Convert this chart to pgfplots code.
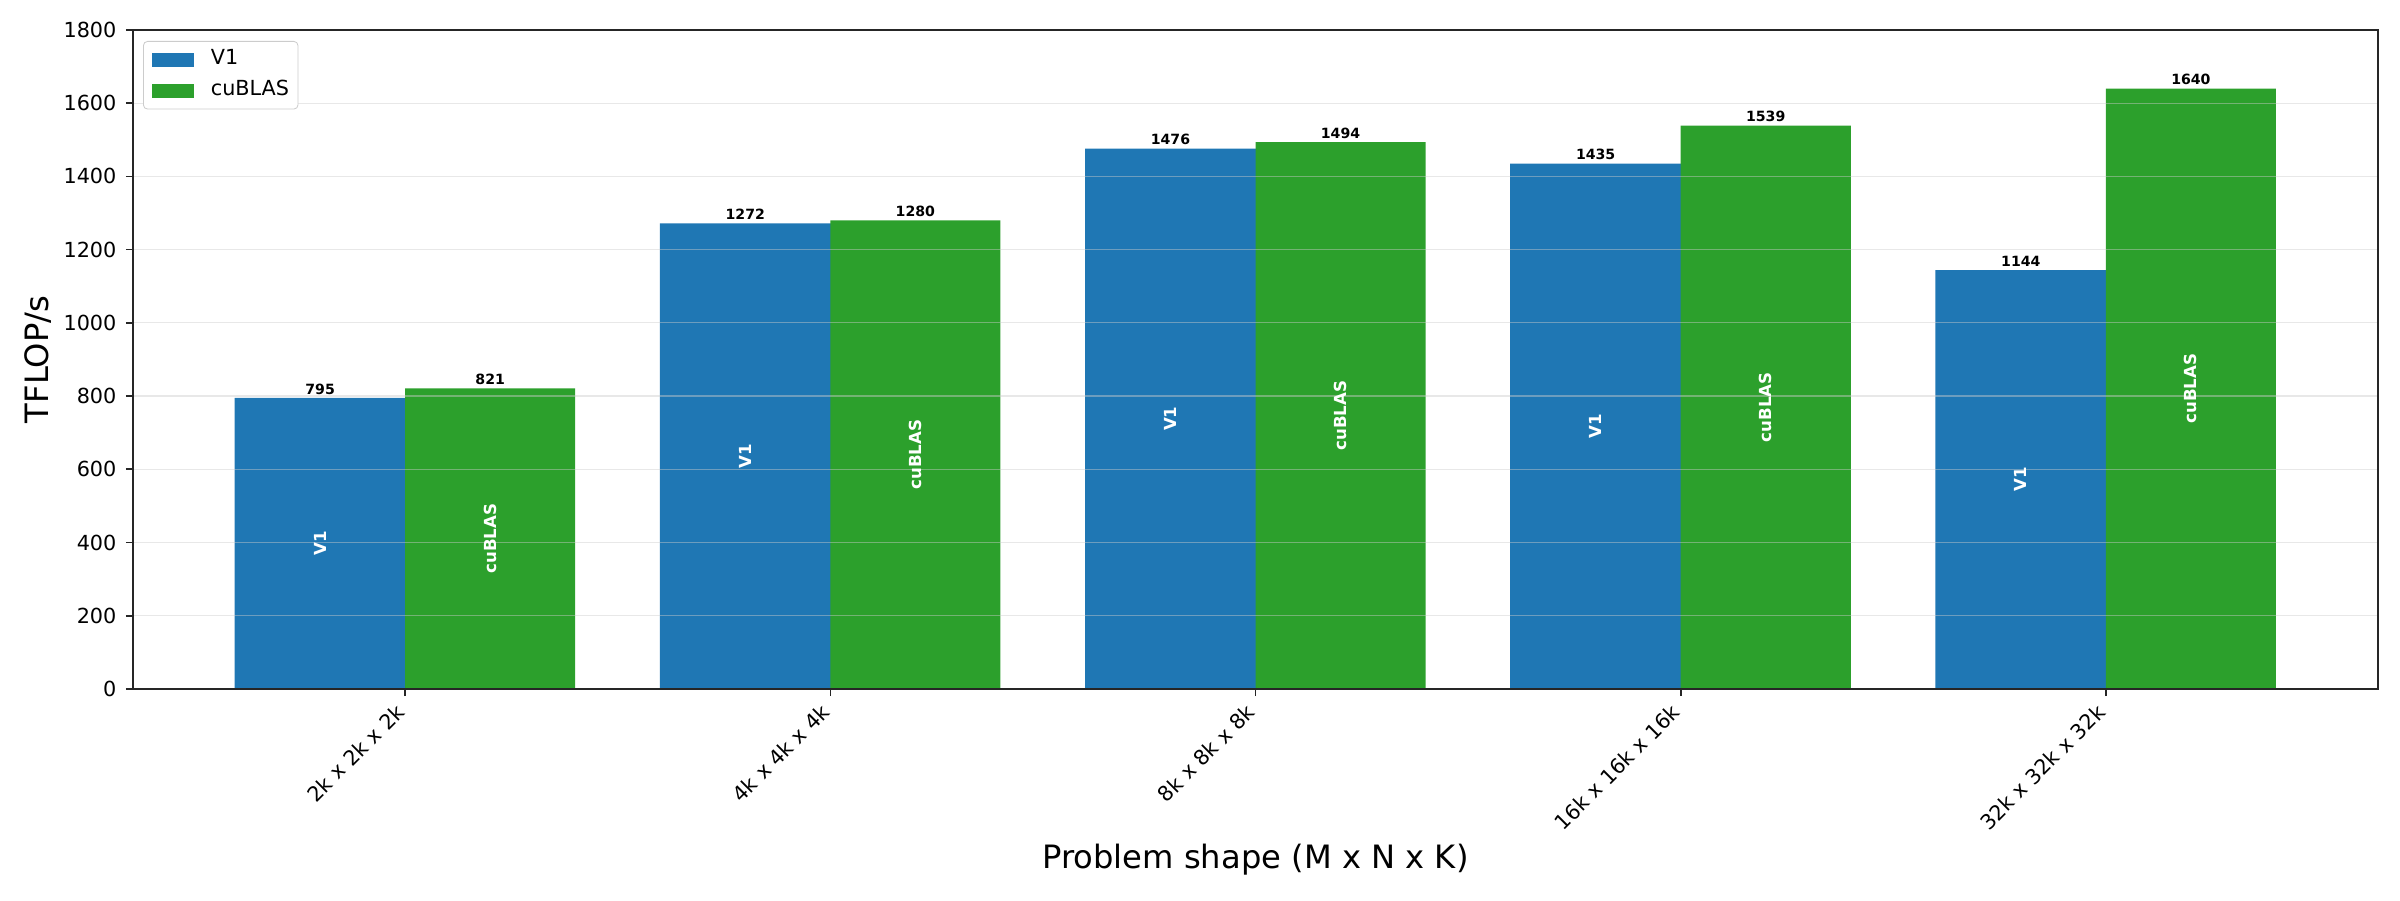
\documentclass[border=0pt]{standalone}
\usepackage{fontspec}
\setmainfont{DejaVu Sans}
\usepackage{pgfplots}
\pgfplotsset{compat=1.18}
\usepackage{pgfplotstable}
\definecolor{cone}{HTML}{1F77B4}
\definecolor{ctwo}{HTML}{2CA02C}
\definecolor{spine}{HTML}{262626}
\pgfplotstableread{
x v1 cublas
0 795 821
1 1272 1280
2 1476 1494
3 1435 1539
4 1144 1640
}\data
\begin{document}
\begin{tikzpicture}
\useasboundingbox (-0.887in,-1.407in) rectangle (15.113in,4.593in);
\begin{axis}[
  at={(0,0)}, anchor=south west,
  scale only axis, width=14.966in, height=4.393in,
  xmin=-0.64, xmax=4.64, ymin=0, ymax=1800,
  xtick={0,1,2,3,4},
  xticklabels={2k x 2k x 2k, 4k x 4k x 4k, 8k x 8k x 8k, 16k x 16k x 16k, 32k x 32k x 32k},
  ytick={0,200,...,1800},
  /pgf/number format/1000 sep={},
  /pgf/number format/assume math mode=true,
  ymajorgrids,
  major grid style={color=black!20, opacity=0.45, line width=0.6pt},
  axis on top,
  tick align=outside, tick pos=left,
  major tick length=3.5pt,
  axis line style={spine, line width=0.8pt},
  every tick/.style={spine, line width=0.8pt},
  ticklabel style={font=\fontsize{10}{12}\selectfont},
  yticklabel style={xshift=-1pt},
  xticklabel style={xshift=-5pt, rotate=45, anchor=north east, inner sep=2pt},
  xlabel={Problem shape (M x N x K)},
  ylabel={TFLOP/s},
  label style={font=\fontsize{15.5}{18}\selectfont},
  xlabel style={at={(axis description cs:0.5,-0.2595)}, anchor=center},
  ylabel style={at={(axis description cs:-0.0423,0.5)}, anchor=center},
  legend cell align=left,
  legend style={at={(0,1)}, anchor=north west, xshift=4.8pt, yshift=-5.3pt,
    draw=black!20, rounded corners=2pt, fill=white,
    font=\fontsize{10}{12}\selectfont,
    nodes={inner sep=0pt, text height=7.5pt, text depth=2.5pt},
    row sep=4.9pt, column sep=8pt, inner xsep=4.3pt, inner ysep=3.85pt},
  legend image code/.code={\fill[#1, sharp corners] (0cm,-0.118cm) rectangle (0.71cm,0.118cm);},
]
\addplot[ybar, bar width=0.402, bar shift=-0.2, fill=cone, draw=none]
  table[x=x, y=v1]{\data};
\addlegendentry{V1}
\addplot[ybar, bar width=0.4, bar shift=0.2, fill=ctwo, draw=none]
  table[x=x, y=cublas]{\data};
\addlegendentry{cuBLAS}
% value labels above the bars
\addplot[draw=none, mark=none, forget plot,
  nodes near coords,
  nodes near coords style={font=\bfseries\fontsize{6.8}{8}\selectfont, text=black, anchor=south, inner sep=1.5pt,
    /pgf/number format/fixed, /pgf/number format/precision=0}]
  table[x expr=\thisrow{x}-0.2, y=v1]{\data};
\addplot[draw=none, mark=none, forget plot,
  nodes near coords,
  nodes near coords style={font=\bfseries\fontsize{6.8}{8}\selectfont, text=black, anchor=south, inner sep=1.5pt,
    /pgf/number format/fixed, /pgf/number format/precision=0}]
  table[x expr=\thisrow{x}+0.2, y=cublas]{\data};
% series names inside the bars
\addplot[draw=none, mark=none, forget plot,
  nodes near coords={V1},
  nodes near coords style={font=\bfseries\fontsize{8}{9.6}\selectfont, text=white, rotate=90, anchor=center}]
  table[x expr=\thisrow{x}-0.2, y expr=\thisrow{v1}/2]{\data};
\addplot[draw=none, mark=none, forget plot,
  nodes near coords={cuBLAS},
  nodes near coords style={font=\bfseries\fontsize{8}{9.6}\selectfont, text=white, rotate=90, anchor=center}]
  table[x expr=\thisrow{x}+0.2, y expr=\thisrow{cublas}/2]{\data};
\end{axis}
\end{tikzpicture}
\end{document}
